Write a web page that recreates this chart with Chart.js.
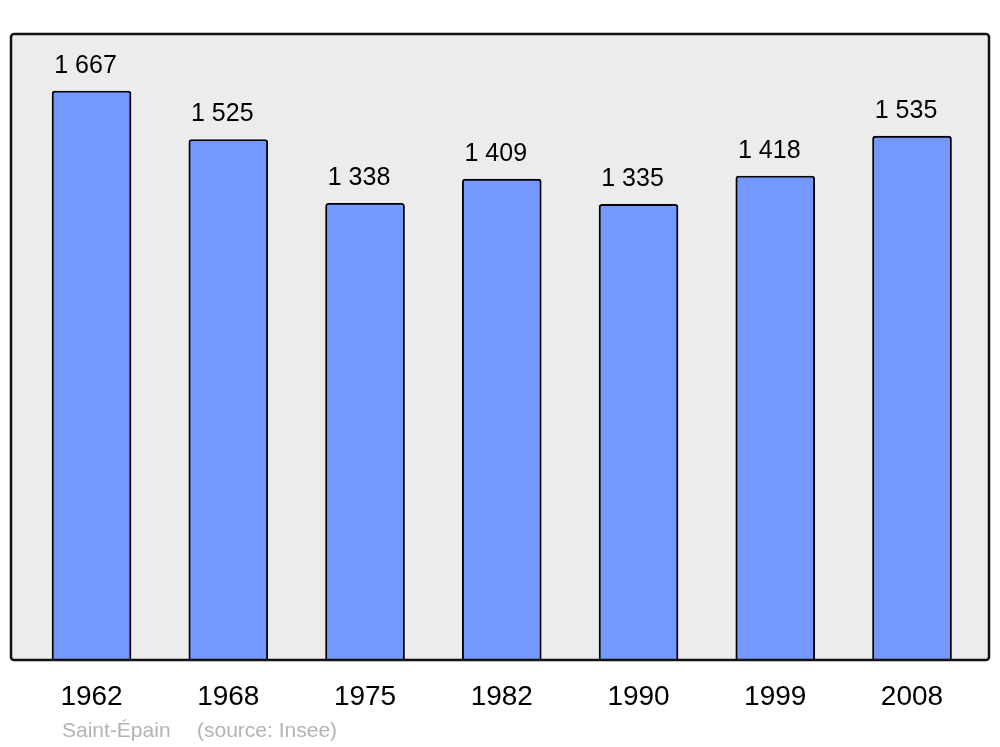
<!DOCTYPE html>
<html>
<head>
<meta charset="utf-8">
<script src="https://cdn.jsdelivr.net/npm/chart.js@4/dist/chart.umd.min.js"></script>
<style>
  html, body { margin: 0; padding: 0; background: #fff; }
  #wrap { width: 1000px; height: 747px; }
</style>
</head>
<body>
<div id="wrap"><canvas id="c" width="1000" height="747"></canvas></div>
<script>
// données : population par recensement
const years = ['1962', '1968', '1975', '1982', '1990', '1999', '2008']
const population = [1667, 1525, 1338, 1409, 1335, 1418, 1535]
const valueLabels = ['1 667', '1 525', '1 338', '1 409', '1 335', '1 418', '1 535']
const commune = 'Saint-Épain'
const source = '(source: Insee)'

const FONT = '"Liberation Sans", Arial, sans-serif'

// fond gris + cadre arrondi
const framePlugin = {
  id: 'frame',
  beforeDatasetsDraw(chart) {
    const { ctx, chartArea: a } = chart
    ctx.save()
    ctx.beginPath()
    ctx.roundRect(a.left, a.top, a.right - a.left, a.bottom - a.top, 3)
    ctx.fillStyle = '#ececec'
    ctx.fill()
    ctx.restore()
  },
  afterDatasetsDraw(chart) {
    const { ctx, chartArea: a } = chart
    ctx.save()
    ctx.beginPath()
    ctx.roundRect(a.left, a.top, a.right - a.left, a.bottom - a.top, 3)
    ctx.lineWidth = 2.5
    ctx.strokeStyle = '#111'
    ctx.stroke()

    // étiquettes de valeurs
    const meta = chart.getDatasetMeta(0)
    ctx.fillStyle = '#000'
    ctx.font = '25px ' + FONT
    ctx.textAlign = 'center'
    ctx.textBaseline = 'alphabetic'
    meta.data.forEach((bar, i) => {
      ctx.fillText(valueLabels[i], bar.x - 6, bar.y - 18)
    })

    // pied de page
    ctx.fillStyle = '#b3b3b3'
    ctx.font = '21px ' + FONT
    ctx.textAlign = 'left'
    ctx.fillText(commune, 62, 737)
    ctx.fillText(source, 197, 737)
    ctx.restore()
  }
}

new Chart(document.getElementById('c'), {
  type: 'bar',
  data: {
    datasets: [{
      data: population.map((v, i) => ({ x: i, y: v })),
      backgroundColor: '#7399ff',
      borderColor: '#000',
      borderWidth: 1.9,
      borderRadius: { topLeft: 3, topRight: 3 },
      borderSkipped: 'bottom',
      barThickness: 79
    }]
  },
  options: {
    responsive: false,
    animation: false,
    layout: { padding: { top: 34, left: 11, right: 11, bottom: 0 } },
    plugins: { legend: { display: false }, tooltip: { enabled: false } },
    scales: {
      x: {
        type: 'linear',
        offset: false,
        min: -0.589,
        max: 6.563,
        grid: { display: false, drawTicks: false, offset: false },
        border: { display: false },
        afterBuildTicks: (scale) => { scale.ticks = years.map((_, i) => ({ value: i })) },
        afterFit: (scale) => { scale.height = 87 },
        ticks: {
          autoSkip: false,
          maxRotation: 0,
          padding: 20,
          color: '#000',
          font: { family: FONT, size: 28 },
          callback: (v) => years[v] ?? ''
        }
      },
      y: {
        display: false,
        min: 0,
        max: 1834
      }
    }
  },
  plugins: [framePlugin]
})
</script>
</body>
</html>
